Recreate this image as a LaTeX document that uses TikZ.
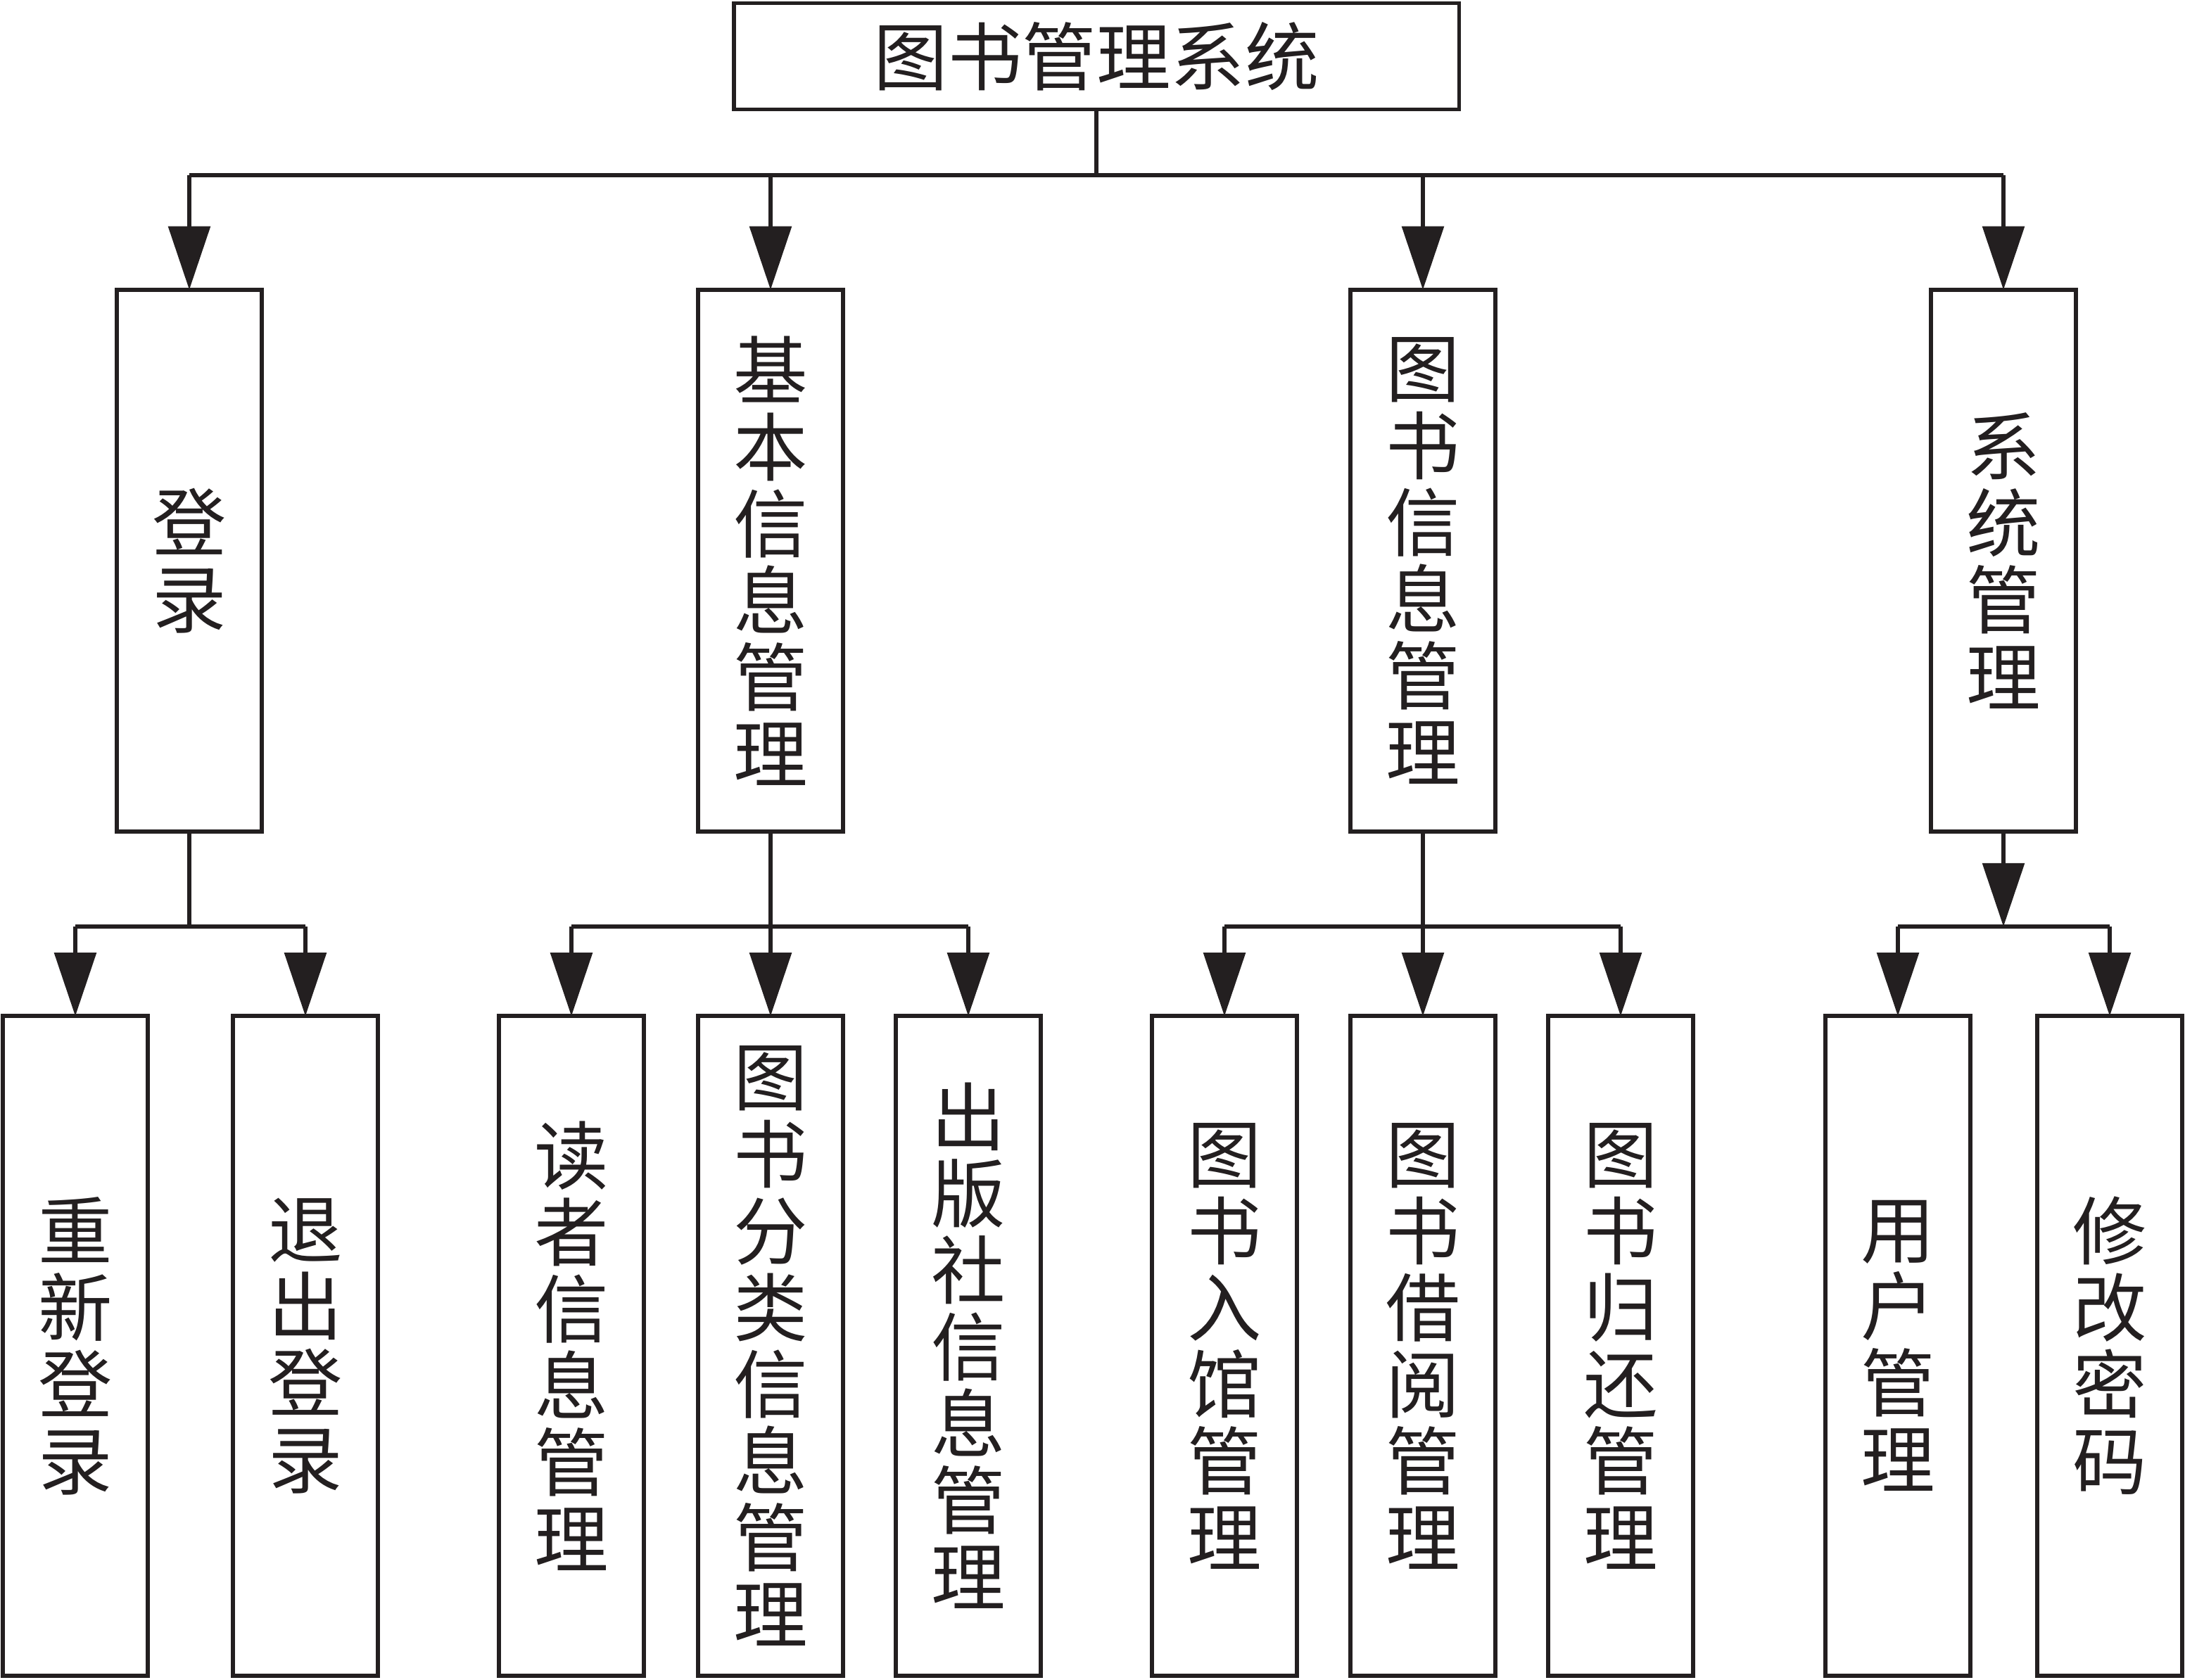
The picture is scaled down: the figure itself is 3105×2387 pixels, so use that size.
\documentclass[tikz,border=0pt]{standalone}
\usepackage{fontspec}
\newfontfamily\cjk{Noto Sans CJK SC}
\usetikzlibrary{arrows.meta}
\definecolor{ink}{RGB}{35,31,32}
\begin{document}
\begin{tikzpicture}[x=0.01cm,y=-0.01cm,
  box/.style={draw=ink,line width=1.6pt,fill=white,inner sep=0pt,outer sep=0pt,
    align=center,text=ink,font=\cjk\fontsize{30}{31}\selectfont},
  rootbox/.style={box,minimum width=10.3cm,minimum height=1.51cm},
  lvone/.style={box,minimum width=2.06cm,minimum height=7.7cm},
  lvtwo/.style={box,minimum width=2.06cm,minimum height=9.37cm},
  conn/.style={draw=ink,line width=1.6pt,line join=miter},
  arr/.style={conn,-{Triangle[length=0.9cm,width=0.59cm]}}]
\useasboundingbox (0,0) rectangle (3105,2387);
\fill[white] (0,0) rectangle (3105,2387);
% nodes
\node[rootbox] (root) at (1558,80) {图书管理系统};
\node[lvone] (a1) at (269,797) {登\\录};
\node[lvone] (a2) at (1095,797) {基\\本\\信\\息\\管\\理};
\node[lvone] (a3) at (2022,797) {图\\书\\信\\息\\管\\理};
\node[lvone] (a4) at (2847,797) {系\\统\\管\\理};
\node[lvtwo] (c1) at (107,1913) {重\\新\\登\\录};
\node[lvtwo] (c2) at (434,1913) {退\\出\\登\\录};
\node[lvtwo] (c3) at (812,1913) {读\\者\\信\\息\\管\\理};
\node[lvtwo] (c4) at (1095,1913) {图\\书\\分\\类\\信\\息\\管\\理};
\node[lvtwo] (c5) at (1376,1913) {出\\版\\社\\信\\息\\管\\理};
\node[lvtwo] (c6) at (1740,1913) {图\\书\\入\\馆\\管\\理};
\node[lvtwo] (c7) at (2022,1913) {图\\书\\借\\阅\\管\\理};
\node[lvtwo] (c8) at (2303,1913) {图\\书\\归\\还\\管\\理};
\node[lvtwo] (c9) at (2697,1913) {用\\户\\管\\理};
\node[lvtwo] (c10) at (2998,1913) {修\\改\\密\\码};
\coordinate (b0) at (0,249);
\coordinate (b1) at (0,1317);
% top level
\draw[conn] (root.south) -- (root.south |- b0);
\draw[conn] (a1.north |- b0) -- (a4.north |- b0);
\foreach \n in {a1,a2,a3,a4} \draw[arr] (\n.north |- b0) -- (\n.north);
% 登录
\draw[conn] (a1.south) -- (a1.south |- b1);
\draw[conn] (c1.north |- b1) -- (c2.north |- b1);
\foreach \n in {c1,c2} \draw[arr] (\n.north |- b1) -- (\n.north);
% 基本信息管理
\draw[conn] (a2.south) -- (a2.south |- b1);
\draw[conn] (c3.north |- b1) -- (c5.north |- b1);
\foreach \n in {c3,c4,c5} \draw[arr] (\n.north |- b1) -- (\n.north);
% 图书信息管理
\draw[conn] (a3.south) -- (a3.south |- b1);
\draw[conn] (c6.north |- b1) -- (c8.north |- b1);
\foreach \n in {c6,c7,c8} \draw[arr] (\n.north |- b1) -- (\n.north);
% 系统管理
\draw[arr] (a4.south) -- (a4.south |- b1);
\draw[conn] (c9.north |- b1) -- (c10.north |- b1);
\foreach \n in {c9,c10} \draw[arr] (\n.north |- b1) -- (\n.north);
\end{tikzpicture}
\end{document}
